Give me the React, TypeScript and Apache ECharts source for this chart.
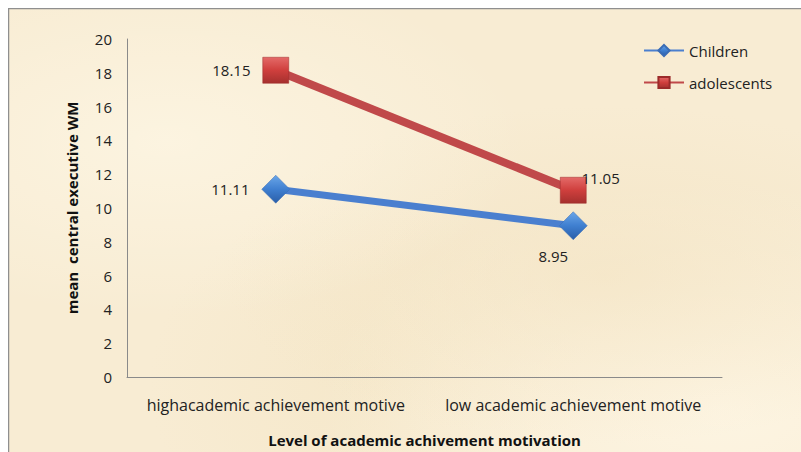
import React, { useEffect, useRef } from "react";
import * as echarts from "echarts";

const categories = ["highacademic achievement motive", "low academic achievement motive"];
const childrenValues = [11.11, 8.95];
const adolescentValues = [18.15, 11.05];
const seriesNames = ["Children", "adolescents"];
const yTicks = { min: 0, max: 20, interval: 2 };

const FONT = "'Open Sans', Lato, sans-serif";

export default function App() {
  const ref = useRef<HTMLDivElement>(null);

  useEffect(() => {
    if (!ref.current) return;
    const chart = echarts.init(ref.current, undefined, { renderer: "svg" });

    const childLabels = [
      { position: "left", distance: 12, offset: [0, 0] },
      { position: "bottom", distance: 12, offset: [-20, -3] },
    ];
    const adolLabels = [
      { position: "left", distance: 12, offset: [0, 0] },
      { position: "right", distance: -5, offset: [0, -12] },
    ];

    const redFill = new echarts.graphic.LinearGradient(0, 0, 0, 1, [
      { offset: 0, color: "#e46a68" },
      { offset: 0.5, color: "#cf3f3d" },
      { offset: 1, color: "#a5302e" },
    ]);
    const blueFill = new echarts.graphic.LinearGradient(0, 0, 0, 1, [
      { offset: 0, color: "#6aa6e8" },
      { offset: 0.5, color: "#3f7fd0" },
      { offset: 1, color: "#2a5ea8" },
    ]);

    const valueLabel = (pos: any) => ({
      show: true,
      position: pos.position,
      distance: pos.distance,
      offset: pos.offset,
      fontFamily: FONT,
      fontSize: 15,
      color: "#222",
      formatter: (p: any) => p.value.toFixed(2),
    });

    chart.setOption({
      animation: false,
      backgroundColor: "transparent",
      textStyle: { fontFamily: FONT },
      graphic: [
        {
          type: "polyline",
          shape: { points: [[0.5, 800], [0.5, 0.5], [800, 0.5]] },
          style: { stroke: "#8f8f8f", lineWidth: 1.5, fill: "none" },
          silent: true,
        },
      ],
      legend: {
        orient: "vertical",
        left: 630,
        top: 30,
        itemWidth: 40,
        itemHeight: 14,
        itemGap: 17,
        textStyle: { fontFamily: FONT, fontSize: 15, color: "#222" },
        data: seriesNames,
      },
      grid: { left: 119, right: 79, top: 31, bottom: 75 },
      xAxis: {
        type: "category",
        data: categories,
        boundaryGap: true,
        axisLine: { show: true, lineStyle: { color: "#8a8a8a", width: 1 } },
        axisTick: { show: false },
        axisLabel: { interval: 0, margin: 20, fontFamily: FONT, fontSize: 16, color: "#222" },
        name: "Level of academic achivement motivation",
        nameLocation: "middle",
        nameGap: 55,
        nameTextStyle: { fontFamily: FONT, fontSize: 15, fontWeight: "bold", color: "#111" },
      },
      yAxis: {
        type: "value",
        min: yTicks.min,
        max: yTicks.max,
        interval: yTicks.interval,
        splitLine: { show: false },
        axisLine: { show: true, lineStyle: { color: "#8a8a8a", width: 1 } },
        axisTick: { show: false },
        axisLabel: { margin: 15, fontFamily: FONT, fontSize: 15, color: "#222" },
        name: "mean  central executive WM",
        nameLocation: "middle",
        nameGap: 48,
        nameRotate: 90,
        nameTextStyle: { fontFamily: FONT, fontSize: 15, fontWeight: "bold", color: "#111" },
      },
      series: [
        {
          name: seriesNames[0],
          type: "line",
          symbol: "diamond",
          symbolSize: 28,
          lineStyle: { color: "#4a7fcf", width: 7 },
          itemStyle: { color: blueFill, borderColor: "#3a6cb5", borderWidth: 0.5 },
          data: childrenValues.map((v, i) => ({ value: v, label: valueLabel(childLabels[i]) })),
          z: 2,
        },
        {
          name: seriesNames[1],
          type: "line",
          symbol: "rect",
          symbolSize: 26,
          lineStyle: { color: "#c0494a", width: 8 },
          itemStyle: { color: redFill, borderColor: "#9b2b2a", borderWidth: 0.5 },
          data: adolescentValues.map((v, i) => ({ value: v, label: valueLabel(adolLabels[i]) })),
          z: 3,
        },
      ],
    });

    return () => chart.dispose();
  }, []);

  return (
    <div
      ref={ref}
      style={{
        position: "fixed",
        left: 8,
        top: 8,
        width: 793,
        height: 444,
        background:
          "radial-gradient(ellipse at 20% 30%, rgba(255,250,235,0.55), rgba(255,250,235,0) 40%)," +
          "radial-gradient(ellipse at 75% 60%, rgba(240,222,185,0.45), rgba(240,222,185,0) 45%)," +
          "radial-gradient(ellipse at 90% 90%, rgba(255,248,232,0.7), rgba(255,248,232,0) 40%)," +
          "radial-gradient(ellipse at 45% 85%, rgba(242,226,190,0.4), rgba(242,226,190,0) 35%)," +
          "#f8ecd3",
      }}
    />
  );
}
